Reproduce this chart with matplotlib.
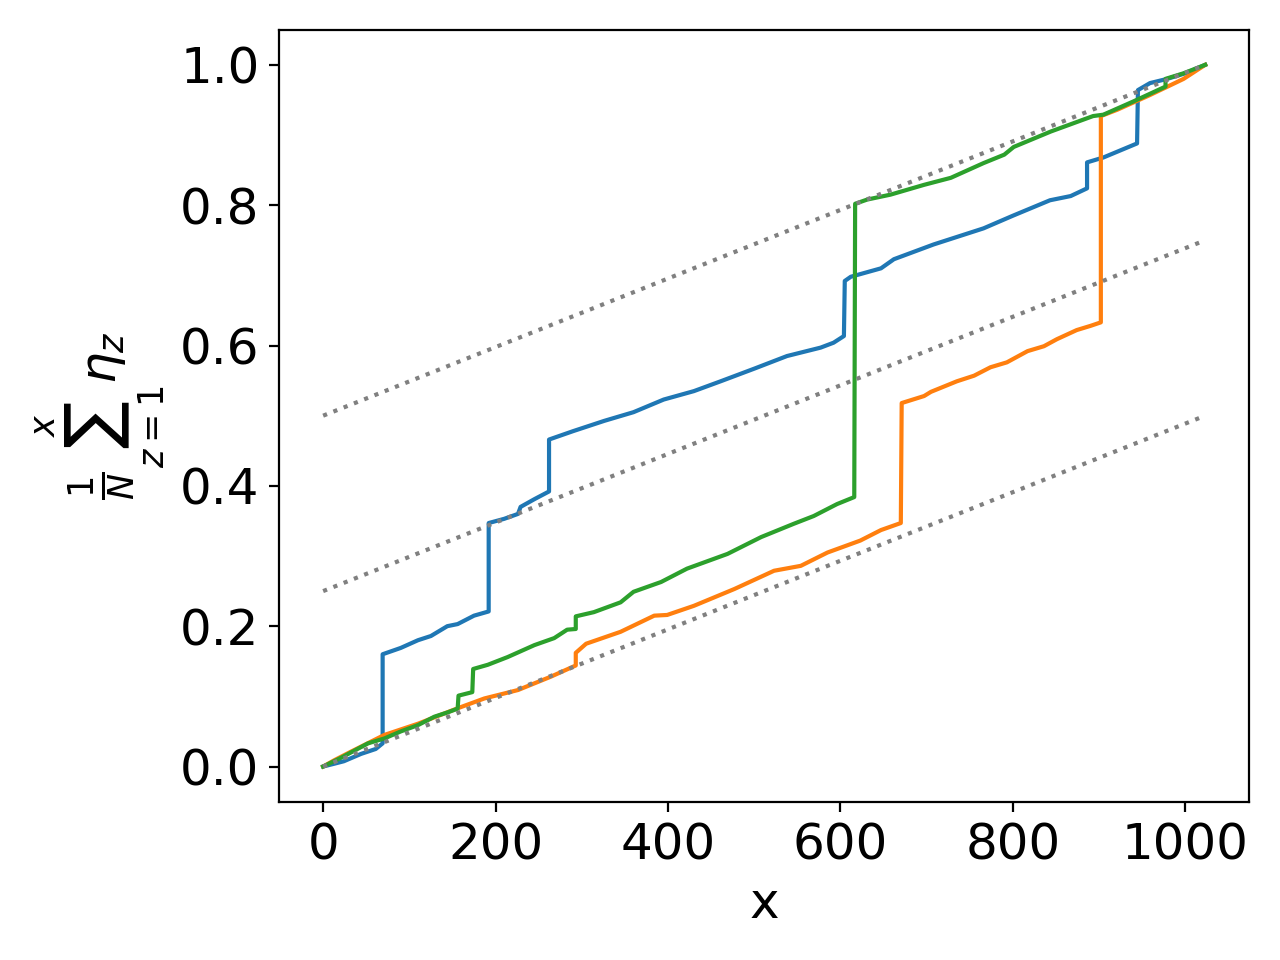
import matplotlib.pyplot as plt
import numpy as np

N = 1024

# cumulative curves, points (repeated x = jump)
blue_x = [0, 13, 24, 44, 61, 69, 69, 90, 110, 125, 144, 156, 175, 192,
          192, 210, 226, 229, 245, 262,
          262, 290, 326, 360, 395, 430, 461, 500, 538, 577, 592, 604,
          605, 612, 647, 662, 708, 766, 800, 843, 867, 886,
          886, 905, 944, 945, 959, 979, 1000, 1023]
blue_y = [0.0, 0.004, 0.0075, 0.018, 0.025, 0.033, 0.16, 0.169, 0.18, 0.186, 0.20, 0.203, 0.215, 0.221,
          0.347, 0.353, 0.36, 0.37, 0.381, 0.392,
          0.466, 0.478, 0.4926, 0.505, 0.523, 0.535, 0.549, 0.567, 0.585, 0.597, 0.604, 0.6135,
          0.692, 0.698, 0.71, 0.723, 0.744, 0.767, 0.785, 0.807, 0.813, 0.824,
          0.861, 0.868, 0.888, 0.964, 0.974, 0.98, 0.988, 1.0]

orange_x = [0, 13, 32, 71, 110, 156, 187, 226, 264, 293,
            293, 305, 345, 384, 399, 430, 477, 523, 554, 585, 623, 647, 670,
            671, 697, 705, 735, 755, 774, 793, 817, 836, 851, 874, 890, 902,
            902, 921, 959, 998, 1023]
orange_y = [0.0, 0.009, 0.021, 0.045, 0.061, 0.083, 0.097, 0.109, 0.128, 0.144,
            0.162, 0.175, 0.192, 0.215, 0.216, 0.229, 0.253, 0.279, 0.286, 0.305, 0.322, 0.337, 0.347,
            0.518, 0.528, 0.534, 0.549, 0.557, 0.569, 0.576, 0.592, 0.599, 0.609, 0.622, 0.628, 0.633,
            0.927, 0.936, 0.957, 0.98, 1.0]

green_x = [0, 20, 52, 71, 90, 110, 129, 144, 156,
           157, 173,
           174, 191, 214, 245, 268, 283, 293,
           293, 314, 345, 360, 392, 422, 469, 508, 546, 569, 596, 616,
           617, 631, 658, 697, 728, 766, 790, 801, 844, 893, 905, 940, 977,
           977, 998, 1023]
green_y = [0.0, 0.012, 0.033, 0.04, 0.05, 0.059, 0.071, 0.077, 0.0825,
           0.101, 0.106,
           0.139, 0.145, 0.156, 0.173, 0.183, 0.195, 0.196,
           0.214, 0.22, 0.234, 0.249, 0.263, 0.282, 0.303, 0.327, 0.346, 0.357, 0.374, 0.384,
           0.802, 0.808, 0.815, 0.829, 0.839, 0.86, 0.872, 0.883, 0.905, 0.927, 0.929, 0.948, 0.969,
           0.98, 0.988, 1.0]

# reference lines: start offsets
offsets = [0.0, 0.25, 0.5]

plt.rcParams['font.size'] = 18
fig, ax = plt.subplots(figsize=(6.4, 4.8), dpi=200)
fig.subplots_adjust(left=0.218, right=0.976, top=0.969, bottom=0.165)

ax.plot(blue_x, blue_y)
ax.plot(orange_x, orange_y)
ax.plot(green_x, green_y)

xs = np.array([0, N - 1])
for off in offsets:
    ax.plot(xs, off + xs / (2 * (N - 1)), ':', color='gray')

ax.set_xlabel('x')
ax.set_ylabel(r'$\frac{1}{N}\sum_{z=1}^{x}\eta_z$')
fig.savefig('out.png')
